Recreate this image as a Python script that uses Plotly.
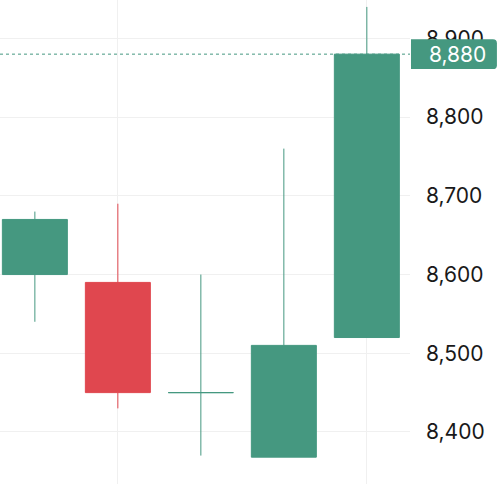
import plotly.graph_objects as go

# Data
x_idx = [0, 1, 2, 3, 4]
opens = [8600, 8590, 8450, 8368, 8520]
highs = [8680, 8690, 8600, 8760, 8940]
lows = [8540, 8430, 8370, 8368, 8520]
closes = [8670, 8450, 8450, 8510, 8880]
y_ticks = [8400, 8500, 8600, 8700, 8800, 8900]
x_grid = [1, 4]

UP = "#459880"
DOWN = "#e0474f"
GRID = "#f0f0f0"
TEXT = "#191919"
FONT = "Inter"

last_price = closes[-1]

# doji candles (open == close) drawn in a separate trace so they keep the up colour
main = [i for i in range(len(x_idx)) if opens[i] != closes[i]]
doji = [i for i in range(len(x_idx)) if opens[i] == closes[i]]

def pick(arr, idx):
    return [arr[i] for i in idx]

fig = go.Figure()
fig.add_trace(go.Candlestick(
    x=pick(x_idx, main), open=pick(opens, main), high=pick(highs, main),
    low=pick(lows, main), close=pick(closes, main),
    increasing=dict(line=dict(color=UP, width=1), fillcolor=UP),
    decreasing=dict(line=dict(color=DOWN, width=1), fillcolor=DOWN),
    whiskerwidth=0, hoverinfo="skip", showlegend=False,
))
fig.add_trace(go.Candlestick(
    x=pick(x_idx, doji), open=pick(opens, doji), high=pick(highs, doji),
    low=pick(lows, doji), close=pick(closes, doji),
    increasing=dict(line=dict(color=UP, width=1), fillcolor=UP),
    decreasing=dict(line=dict(color=UP, width=1), fillcolor=UP),
    whiskerwidth=0, hoverinfo="skip", showlegend=False,
))

# last price dotted line
fig.add_shape(type="line", xref="paper", x0=0, x1=1, yref="y", y0=last_price, y1=last_price,
              line=dict(color=UP, width=1, dash="dot"), layer="above")

# last price label box with rounded right corners
x0, x1 = 1.0024, 1.212
hy = 19.0
rx, ry = 0.0098, 5.0
yb, yt = last_price - hy, last_price + hy
path = (f"M {x0},{yb} L {x1 - rx},{yb} Q {x1},{yb} {x1},{yb + ry} "
        f"L {x1},{yt - ry} Q {x1},{yt} {x1 - rx},{yt} L {x0},{yt} Z")
fig.add_shape(type="path", xref="paper", yref="y", path=path,
              fillcolor=UP, line=dict(width=0), layer="above")
fig.add_annotation(xref="paper", yref="y", x=1.042, y=last_price, xanchor="left", yanchor="middle",
                   text=f"{last_price:,}", showarrow=False,
                   font=dict(family=FONT, size=21, color="white"))

fig.update_layout(
    width=502, height=484,
    margin=dict(l=0, r=92, t=0, b=0),
    paper_bgcolor="white", plot_bgcolor="white",
    boxgap=0.217, boxgroupgap=0,
    font=dict(family=FONT, size=21, color=TEXT),
    xaxis=dict(range=[-0.42, 4.52], tickvals=x_grid, showticklabels=False, showgrid=True,
               gridcolor=GRID, gridwidth=1, zeroline=False, showline=False, ticks="",
               rangeslider=dict(visible=False), fixedrange=True),
    yaxis=dict(side="right", range=[8333.9, 8948.8], tickvals=y_ticks, tickformat=",",
               showgrid=True, gridcolor=GRID, gridwidth=1, zeroline=False, showline=False,
               ticks="", ticklabelstandoff=15, tickfont=dict(family=FONT, size=21, color=TEXT),
               fixedrange=True, automargin=False),
    hovermode=False,
)

fig.write_html("out.html", config={"displayModeBar": False, "staticPlot": True},
               post_script="document.body.style.margin='0';document.body.style.overflow='hidden';")
